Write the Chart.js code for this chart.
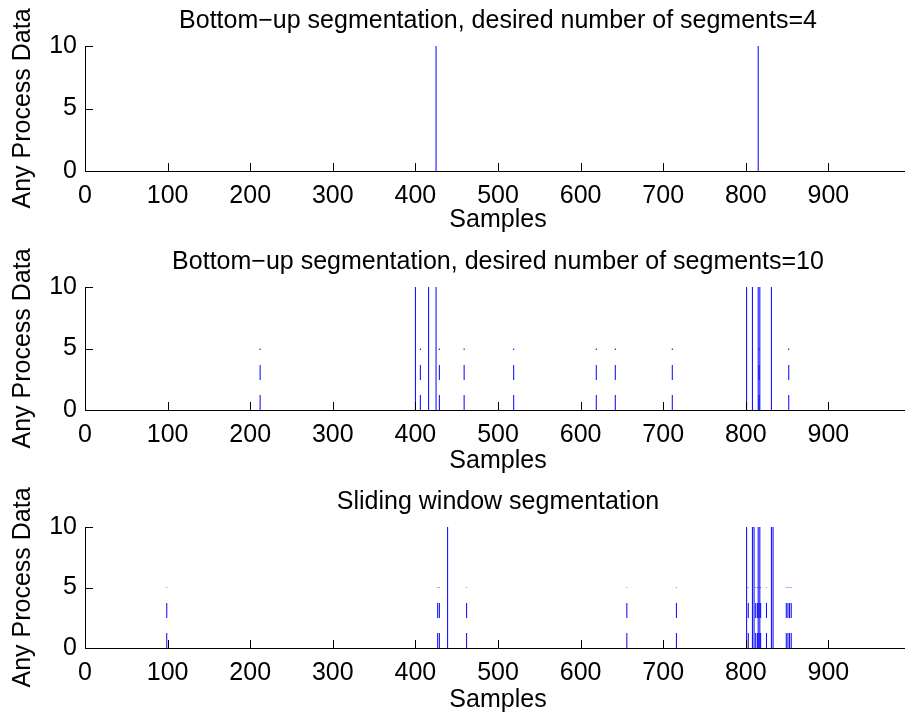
<!DOCTYPE html>
<html><head><meta charset="utf-8">
<script src="https://cdn.jsdelivr.net/npm/chart.js@4.4.1/dist/chart.umd.min.js"></script>
<style>
html,body{margin:0;padding:0;background:#fff;}
#wrap{position:relative;width:905px;height:720px;overflow:hidden;background:#fff;}
canvas{position:absolute;left:0;}
</style></head><body>
<div id="wrap">
<canvas id="c1" width="911" height="240" style="top:0px"></canvas>
<canvas id="c2" width="911" height="240" style="top:241px"></canvas>
<canvas id="c3" width="911" height="239" style="top:481px"></canvas>
</div>
<script>
// ---- data ----
const panelTitles = [
  "Bottom\u2212up segmentation, desired number of segments=4",
  "Bottom\u2212up segmentation, desired number of segments=10",
  "Sliding window segmentation"
];
const xAxisLabel = "Samples";
const yAxisLabel = "Any Process Data";
const xTickValues = [0,100,200,300,400,500,600,700,800,900];
const yTickValues = [0,5,10];
const xMin = 0, xMax = 1000;
const yMin = 0, yMax = 10;

// panel 1: bottom-up, 4 segments (full-height boundaries)
const bu4Full = [425, 815];
const bu4Half = [];
// panel 2: bottom-up, 10 segments
const bu10Full = [400, 416, 425, 801, 808, 815, 817, 831];
const bu10Half = [212, 406, 429, 459, 519, 619, 642, 711, 816, 852];
// panel 3: sliding window
const swFull = [439, 801, 808, 810, 815, 817, 831, 833];
const swHalf = [99, 427, 429, 462, 656, 716, 803, 812, 814, 816, 818, 825, 849, 851, 853, 855];

const fullLevel = 10;
const halfLevel = 5;

// ---- helpers ----
function stems(positions, level){
  const pts = [];
  positions.forEach(p => { pts.push({x:p, y:0}); pts.push({x:p, y:level}); pts.push({x:p, y:null}); });
  return pts;
}

const FONT = "'Liberation Sans', Arial, Helvetica, sans-serif";
const FS = 25;

const inwardTicks = {
  id: 'inwardTicks',
  afterDraw(chart){
    const {ctx, chartArea:a, scales:{x, y}} = chart;
    ctx.save();
    ctx.strokeStyle = '#000';
    ctx.lineWidth = 1;
    ctx.beginPath();
    x.ticks.forEach(t => {
      const px = Math.round(x.getPixelForValue(t.value)) + 0.5;
      ctx.moveTo(px, a.bottom); ctx.lineTo(px, a.bottom - 8);
    });
    y.ticks.forEach(t => {
      const py = Math.round(y.getPixelForValue(t.value)) + 0.5;
      ctx.moveTo(a.left, py); ctx.lineTo(a.left + 8, py);
    });
    ctx.stroke();
    ctx.restore();
  }
};

function makePanel(id, title, full, half, canvasH, bottom){
  new Chart(document.getElementById(id), {
    type: 'scatter',
    data: {
      datasets: [
        {data: stems(full, fullLevel), showLine: true, spanGaps: false, borderColor: 'rgb(0,0,255)', borderWidth: 1, pointRadius: 0, pointHoverRadius: 0},
        {data: stems(half, halfLevel), showLine: true, spanGaps: false, borderColor: 'rgb(0,0,255)', borderWidth: 1, borderDash: [15,15], pointRadius: 0, pointHoverRadius: 0}
      ]
    },
    options: {
      responsive: false,
      animation: false,
      events: [],
      layout: {padding: 0},
      plugins: {
        legend: {display: false},
        tooltip: {enabled: false},
        title: {display: true, fullSize: false, text: title, color: '#000', font: {family: FONT, size: FS, weight: 'normal', lineHeight: 1.2}, padding: {top: 6, bottom: 10}}
      },
      scales: {
        x: {
          type: 'linear', min: xMin, max: xMax,
          afterBuildTicks: s => { s.ticks = xTickValues.map(v => ({value: v})); },
          afterFit: s => { s.height = canvasH - bottom; },
          grid: {display: false, drawTicks: false},
          border: {display: true, color: '#000', width: 1},
          ticks: {color: '#000', padding: 10, maxRotation: 0, autoSkip: false, font: {family: FONT, size: FS}},
          title: {display: true, text: xAxisLabel, color: '#000', padding: {top: 0, bottom: 5}, font: {family: FONT, size: FS}}
        },
        y: {
          min: yMin, max: yMax,
          afterBuildTicks: s => { s.ticks = yTickValues.map(v => ({value: v})); },
          afterFit: s => { s.width = 85; },
          grid: {display: false, drawTicks: false},
          border: {display: true, color: '#000', width: 1},
          ticks: {color: '#000', padding: 8, font: {family: FONT, size: FS}},
          title: {display: true, text: yAxisLabel, color: '#000', padding: {top: 8, bottom: 0}, font: {family: FONT, size: FS}}
        }
      }
    },
    plugins: [inwardTicks]
  });
}

makePanel('c1', panelTitles[0], bu4Full, bu4Half, 240, 171);
makePanel('c2', panelTitles[1], bu10Full, bu10Half, 240, 169);
makePanel('c3', panelTitles[2], swFull, swHalf, 239, 167);
</script>
</body></html>
